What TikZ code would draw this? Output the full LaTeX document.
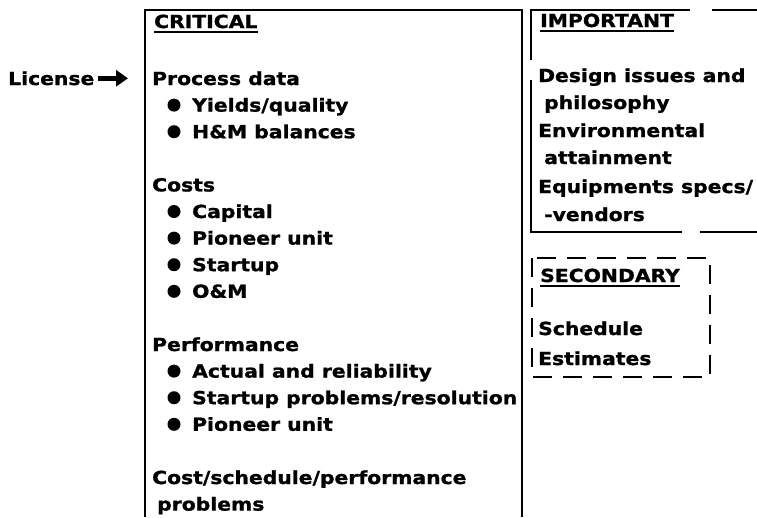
\documentclass[tikz,border=0pt]{standalone}
\usepackage{fontspec}
\newfontfamily\chartfont{DejaVu Sans}[FakeStretch=1.13, BoldFeatures={FakeBold=1.2}]
\usetikzlibrary{arrows.meta}

\begin{document}
\begin{tikzpicture}[
    x=1pt, y=-1pt,
    every node/.style={font=\chartfont\bfseries\fontsize{18}{22}\selectfont},
    txt/.style={anchor=base west, inner sep=0pt},
    bul/.style={circle, fill, minimum size=13pt, inner sep=0pt},
    frame/.style={line width=1.8pt},
    uline/.style={line width=1.4pt},
    dashframe/.style={line width=1.6pt, dash pattern=on 19pt off 11pt},
    fatarrow/.style={line width=5.5pt, -{Triangle[length=12pt,width=16pt]}}]

\useasboundingbox (0,0) rectangle (757,517);

% critical
\draw[frame] (145,517) -- (145,10) -- (522,10) -- (522,517);
\node[txt] (crit) at (154,28) {CRITICAL};
\draw[uline] ([yshift=-4pt]crit.base west) -- ([yshift=-4pt]crit.base east);

\node[txt] (lic) at (8,85) {License};
\node[txt] (pd) at (152,85) {Process data};
\draw[fatarrow] ([xshift=3pt]lic.east) -- ([xshift=-24pt]lic.east -| pd.west);

\node[txt] (costs) at (152,191.4) {Costs};
\node[txt] (perf) at (152,351) {Performance};
\node[txt] (csp) at (152,484) {Cost/schedule/performance};
\node[txt] (csp2) at (157,510.6) {problems};

\foreach \r/\lbl [count=\i] in {1/{Yields/quality}, 2/{H\&M balances},
    5/Capital, 6/{Pioneer unit}, 7/Startup, 8/{O\&M},
    11/{Actual and reliability}, 12/{Startup problems/resolution}, 13/{Pioneer unit}}
{
  \node[bul] (b\i) at (174, 85+\r*26.6-6.5) {};
  \node[txt] (item\i) at (192, 85+\r*26.6) {\lbl};
}

% important
\draw[frame] (531,60) -- (531,10) -- (690,10);
\draw[frame] (712,10) -- (757,10);
\draw[frame] (531,80) -- (531,232) -- (682,232);
\draw[frame] (700,232) -- (757,232);
\node[txt] (imp) at (540,27) {IMPORTANT};
\draw[uline] ([yshift=-4pt]imp.base west) -- ([yshift=-4pt]imp.base east);
\node[txt] (des) at (538,82) {Design issues and};
\node[txt] (des2) at (544,109) {philosophy};
\node[txt] (env) at (538,137) {Environmental};
\node[txt] (env2) at (544,164) {attainment};
\node[txt] (eqp) at (538,193) {Equipments specs/};
\node[txt] (eqp2) at (544,221) {-vendors};

% secondary
\draw[dashframe] (532,258) rectangle (710,377);
\node[txt] (sec) at (540,282) {SECONDARY};
\draw[uline] ([yshift=-4pt]sec.base west) -- ([yshift=-4pt]sec.base east);
\node[txt] (sch) at (538,335) {Schedule};
\node[txt] (est) at (538,365) {Estimates};

\end{tikzpicture}
\end{document}
